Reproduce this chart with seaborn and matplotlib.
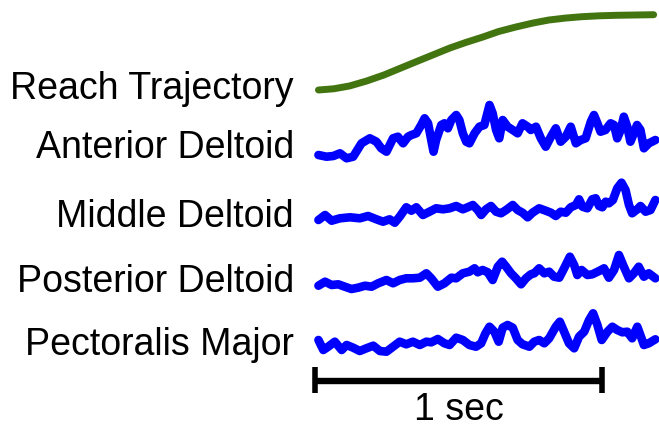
import numpy as np
import pandas as pd
import matplotlib
matplotlib.use("Agg")
import matplotlib.pyplot as plt
import seaborn as sns

# ---- recorded signals (time in ms, amplitude in arbitrary units) ----
reach_t = [12, 65, 120, 180, 240, 295, 350, 410, 470, 525, 585, 640, 700, 760,
           815, 875, 930, 990, 1050, 1115, 1180]
reach_pos = [0, 1.2, 4, 9, 15, 21.5, 28, 35, 42, 47.5, 53, 58.5, 63, 67,
             70, 72, 73.3, 74.2, 74.7, 75, 75.3]

ant_t = [12, 40, 64, 87, 110, 133, 162, 191, 214, 231, 249, 272, 289, 307, 324,
         336, 353, 370, 382, 394, 405, 413, 422, 440, 451, 463, 475, 492, 503,
         515, 527, 538, 556, 573, 590, 608, 619, 631, 642, 654, 671, 689, 706,
         723, 741, 752, 770, 787, 804, 822, 839, 856, 874, 891, 909, 926, 943,
         961, 972, 984, 995, 1012, 1030, 1042, 1053, 1065, 1076, 1088, 1099,
         1111, 1122, 1134, 1146, 1163, 1186]
ant_emg = [5, 3.3, 4, 6.7, 1.7, 3.3, 16.7, 21.7, 18.3, 11.7, 8.3, 21.7, 23.3,
           16.7, 23.3, 25, 26.7, 35, 41.7, 36.7, 20, 8.3, 20, 35, 36.7, 31.7,
           40, 45, 40, 26.7, 18.3, 16.7, 26.7, 33.3, 35, 55, 46.7, 30, 21.7,
           40, 33.3, 30, 26.7, 36.7, 33.3, 30, 33.3, 21.7, 13.3, 23.3, 31.7,
           18.3, 23.3, 33.3, 16.7, 20, 21.7, 38.3, 45, 36.7, 28.3, 30, 36.7,
           35, 21.7, 30, 43.3, 33.3, 18.3, 26.7, 35, 30, 11.7, 16.7, 20]

mid_t = [12, 35, 58, 87, 122, 156, 185, 214, 237, 260, 278, 295, 318, 336, 353,
         376, 399, 422, 446, 469, 492, 515, 532, 550, 567, 579, 596, 613, 631,
         648, 666, 689, 706, 723, 741, 758, 781, 804, 822, 839, 856, 874, 891,
         909, 920, 932, 949, 966, 978, 990, 1001, 1013, 1024, 1038, 1053, 1068,
         1082, 1094, 1105, 1123, 1134, 1152, 1169, 1186]
mid_emg = [2, 7, 1.3, 3.7, 4.7, 3.7, 6, 2.7, 0.3, 2.7, -0.7, 5.3, 14.7, 11.3,
           14.7, 7, 10.3, 13.7, 12.7, 13.7, 16, 12.7, 14.7, 17, 12, 7, 12.7,
           16, 10.3, 8.7, 12, 17, 12, 9.3, 4.7, 9.3, 13.7, 11.3, 9.3, 6, 10.3,
           9.3, 14.7, 17, 22.7, 15.3, 13.7, 22.7, 23.7, 16, 14.7, 20.3, 18.7,
           22, 33.7, 39.3, 32, 17, 8.7, 12.7, 16, 10.3, 12, 22]

post_t = [12, 35, 58, 81, 104, 127, 150, 174, 197, 220, 249, 272, 295, 318, 341,
          365, 388, 405, 428, 451, 475, 492, 515, 538, 556, 567, 584, 602, 619,
          637, 652, 666, 683, 700, 718, 735, 752, 764, 781, 799, 816, 833, 851,
          868, 888, 903, 914, 929, 949, 966, 990, 1007, 1024, 1042, 1059, 1076,
          1094, 1111, 1128, 1146, 1163, 1186]
post_emg = [4.3, 8.3, 5, 5.7, 3.3, 1, 2.3, 4.3, 3.3, 6.7, 10, 6.7, 10, 11.7,
            11.7, 12.3, 16.7, 11.7, 3.3, 6.7, 12.3, 11.7, 16.7, 18.3, 21.7,
            17.7, 20, 17.7, 10, 23.3, 28.3, 23.3, 16.7, 11.7, 5.7, 11.7, 15.7,
            16.7, 21.7, 16.7, 18.3, 13.3, 12.3, 21.7, 33.3, 25, 15, 20, 15,
            15.7, 19, 21.7, 12.3, 20, 35, 23.3, 11.7, 16.7, 23.3, 13.3, 16.7,
            11.7]

pec_t = [12, 29, 46, 69, 93, 110, 133, 156, 179, 203, 226, 249, 272, 295, 318,
         341, 365, 388, 405, 428, 451, 469, 492, 515, 538, 561, 579, 594, 608,
         625, 640, 654, 671, 689, 706, 723, 747, 764, 781, 799, 816, 839, 853,
         868, 885, 903, 920, 938, 955, 969, 984, 999, 1019, 1036, 1053, 1071,
         1088, 1105, 1123, 1134, 1146, 1163, 1186]
pec_emg = [12, 2, 5.3, 10.3, 2, 7, 4.3, 1, 3.7, 6.3, 1, 0.3, 5.3, 10.3, 7.7,
           10.3, 7, 10.3, 9.7, 13, 8.7, 7, 14.3, 12, 7, 5.3, 8.7, 18.7, 25.3,
           20.3, 10.3, 24.3, 27, 24.3, 12, 7.7, 5.3, 10.3, 12, 8.7, 13.7, 25.3,
           30.3, 20.3, 8.7, 3.7, 15.3, 20.3, 32, 38.7, 27, 12, 20.3, 25.3, 22,
           19.7, 20.3, 13.7, 25.3, 16.7, 7, 8.7, 12.7]

labels = ["Reach Trajectory", "Anterior Deltoid", "Middle Deltoid",
          "Posterior Deltoid", "Pectoralis Major"]
scale_bar_ms = 1000
scale_label = "1 sec"

# ---- layout ----
W, H, DPI = 659, 428, 100
PX_PER_MS = 0.287          # horizontal scale: 287 px per second
X0 = 315                   # pixel where t = 0
baselines = [90, 160, 222, 290, 352]       # trace baselines (px from top)
label_baselines = [99, 158, 227, 292, 355]  # text baselines (px from top)
FONT_SIZE = 27

sns.set_theme(style="white")
plt.rcParams["font.family"] = ["Liberation Sans", "DejaVu Sans"]

fig = plt.figure(figsize=(W / DPI, H / DPI), dpi=DPI)
ax = fig.add_axes([0, 0, 1, 1])
ax.set_xlim(-X0 / PX_PER_MS, (W - X0) / PX_PER_MS)
ax.set_ylim(H, 0)
ax.axis("off")

traces = [(reach_t, reach_pos, "#427510", 5.0),
          (ant_t, ant_emg, "#0000ff", 6.2),
          (mid_t, mid_emg, "#0000ff", 6.2),
          (post_t, post_emg, "#0000ff", 6.2),
          (pec_t, pec_emg, "#0000ff", 6.2)]

for (t, v, color, lw), base in zip(traces, baselines):
    df = pd.DataFrame({"t": t, "v": base - np.asarray(v, dtype=float)})
    line_ax = sns.lineplot(data=df, x="t", y="v", ax=ax, color=color,
                           linewidth=lw, sort=False, estimator=None)
    line_ax.lines[-1].set_solid_joinstyle("round")
    line_ax.lines[-1].set_solid_capstyle("round")

ax.set_xlabel("")
ax.set_ylabel("")

# row labels, right-aligned left of the traces
label_x = -(X0 - 294) / PX_PER_MS
for text, yb in zip(labels, label_baselines):
    ax.text(label_x, yb, text, ha="right", va="baseline", fontsize=FONT_SIZE,
            color="black")

# time scale bar
bar_y = 380.5
ax.plot([0, scale_bar_ms], [bar_y, bar_y], color="black", lw=4.6,
        solid_capstyle="butt")
for xe in (0, scale_bar_ms):
    ax.plot([xe, xe], [367, 393], color="black", lw=4.0, solid_capstyle="butt")
ax.text(scale_bar_ms * 0.5, 420, scale_label, ha="center", va="baseline",
        fontsize=FONT_SIZE, color="black")

fig.savefig("out.png", dpi=DPI, facecolor="white")
